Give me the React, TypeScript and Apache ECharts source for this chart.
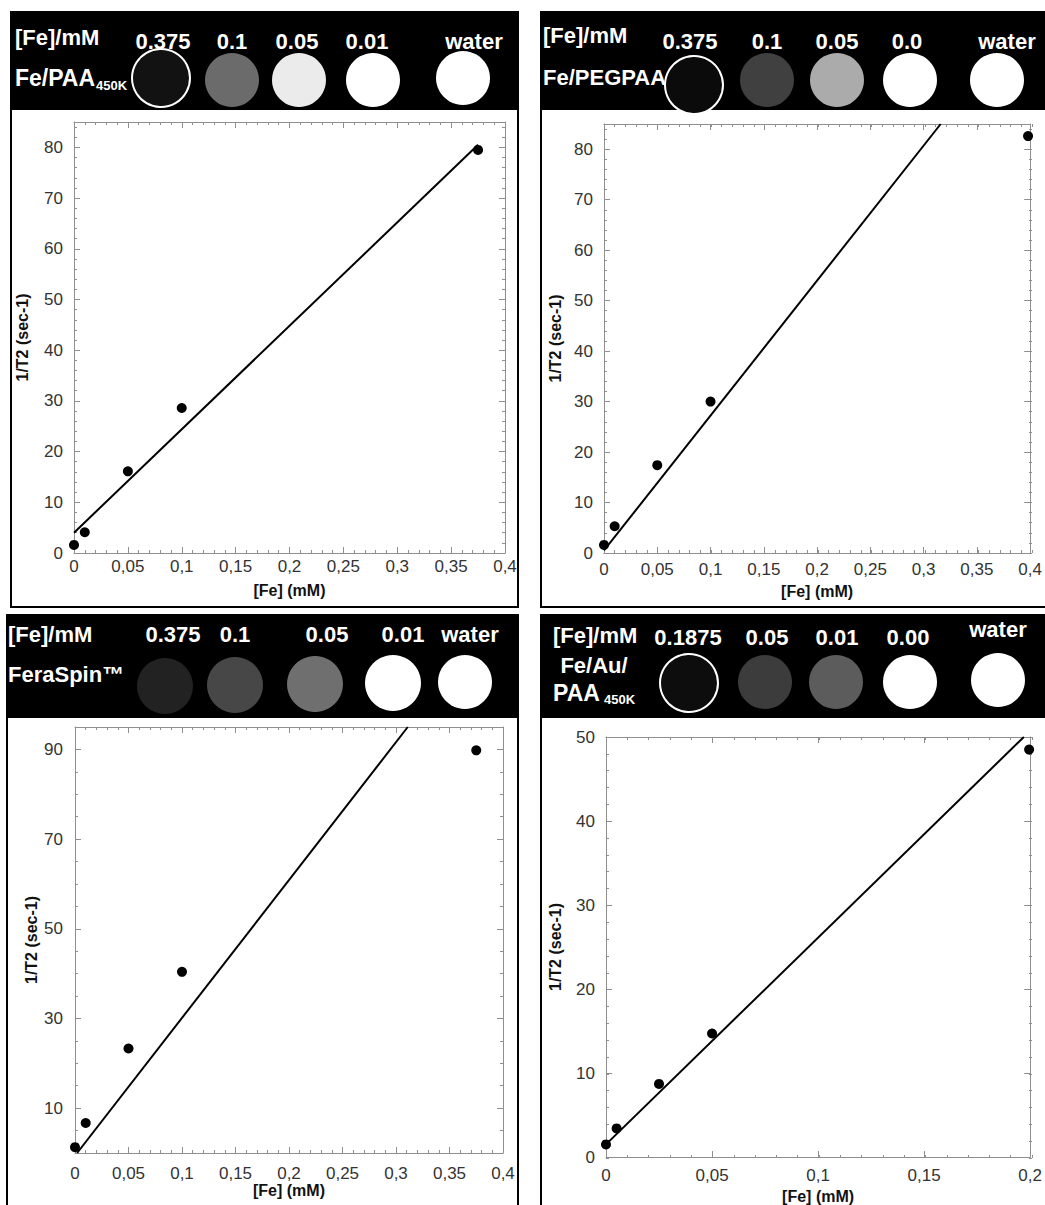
import React, { useEffect, useRef } from "react";
import * as echarts from "echarts";

const FONT = "'Liberation Sans', Arial, Helvetica, sans-serif";

// ---------------- data ----------------
// Panel A — Fe/PAA450K
const aConc = [0, 0.01, 0.05, 0.1, 0.375];
const aRate = [1.6, 4.1, 16.1, 28.6, 79.5];
const aFitConc = [0, 0.375];
const aFitRate = [4.0, 80.5];
// Panel B — Fe/PEGPAA
const bConc = [0, 0.01, 0.05, 0.1, 0.398];
const bRate = [1.6, 5.3, 17.4, 30.0, 82.6];
const bFitConc = [0, 0.316];
const bFitRate = [0.5, 85];
// Panel C — FeraSpin
const cConc = [0, 0.01, 0.05, 0.1, 0.375];
const cRate = [1.3, 6.7, 23.3, 40.4, 89.8];
const cFitConc = [0.002, 0.311];
const cFitRate = [0, 95];
// Panel D — Fe/Au/PAA450K
const dConc = [0, 0.005, 0.025, 0.05, 0.1995];
const dRate = [1.5, 3.4, 8.7, 14.7, 48.5];
const dFitConc = [0, 0.197];
const dFitRate = [1.5, 50];

// tick labels
const xTicksWide = [0, 0.05, 0.1, 0.15, 0.2, 0.25, 0.3, 0.35, 0.4];
const xTicksNarrow = [0, 0.05, 0.1, 0.15, 0.2];
const yTicksA = [0, 10, 20, 30, 40, 50, 60, 70, 80];
const yTicksB = [0, 10, 20, 30, 40, 50, 60, 70, 80];
const yTicksC = [10, 30, 50, 70, 90];
const yTicksD = [0, 10, 20, 30, 40, 50];

// header labels
const hdrA = ["0.375", "0.1", "0.05", "0.01", "water"];
const hdrB = ["0.375", "0.1", "0.05", "0.0", "water"];
const hdrC = ["0.375", "0.1", "0.05", "0.01", "water"];
const hdrD = ["0.1875", "0.05", "0.01", "0.00", "water"];

// ---------------- layout ----------------
const GRAY = "#8f8f8f";
const LABEL = "#333";

function steps(from: number, to: number, step: number): number[] {
  const out: number[] = [];
  for (let v = from; v <= to + 1e-9; v += step) out.push(Math.round(v * 1e6) / 1e6);
  return out;
}

const fmt = (v: number) => String(v).replace(".", ",");

type Panel = {
  conc: number[]; rate: number[]; fitX: number[]; fitY: number[];
  xMax: number; yMax: number; xMajor: number[]; yMajor: number[];
  xMinor: number; yMinor: number;
  box: { left: number; top: number; width: number; height: number };
  yNameGap: number; xNameGap: number; xLabelMargin: number; yLabelMargin: number;
};

const panels: Panel[] = [
  { conc: aConc, rate: aRate, fitX: aFitConc, fitY: aFitRate, xMax: 0.4, yMax: 85, xMajor: xTicksWide, yMajor: yTicksA, xMinor: 0.01, yMinor: 2,
    box: { left: 74, top: 122, width: 431, height: 431 }, yNameGap: 44, xNameGap: 29, xLabelMargin: 5, yLabelMargin: 11 },
  { conc: bConc, rate: bRate, fitX: bFitConc, fitY: bFitRate, xMax: 0.4, yMax: 85, xMajor: xTicksWide, yMajor: yTicksB, xMinor: 0.01, yMinor: 2,
    box: { left: 604, top: 124, width: 428, height: 429 }, yNameGap: 41, xNameGap: 30, xLabelMargin: 8, yLabelMargin: 11 },
  { conc: cConc, rate: cRate, fitX: cFitConc, fitY: cFitRate, xMax: 0.4, yMax: 95, xMajor: xTicksWide, yMajor: yTicksC, xMinor: 0.01, yMinor: 5,
    box: { left: 75, top: 727, width: 428, height: 426 }, yNameGap: 36, xNameGap: 26, xLabelMargin: 12, yLabelMargin: 12 },
  { conc: dConc, rate: dRate, fitX: dFitConc, fitY: dFitRate, xMax: 0.2, yMax: 50, xMajor: xTicksNarrow, yMajor: yTicksD, xMinor: 0.01, yMinor: 2,
    box: { left: 606, top: 737, width: 426, height: 421 }, yNameGap: 43, xNameGap: 31, xLabelMargin: 10, yLabelMargin: 11 },
];

function buildOption() {
  const grid: any[] = [];
  const xAxis: any[] = [];
  const yAxis: any[] = [];
  const series: any[] = [];
  const nameStyle = { fontFamily: FONT, fontSize: 16, fontWeight: "bold", color: "#111" };
  const labelStyle = { fontFamily: FONT, fontSize: 17, color: LABEL };

  panels.forEach((p, i) => {
    grid.push({ ...p.box });
    grid.push({ ...p.box });
    const gMain = i * 2;
    const gMinor = i * 2 + 1;
    const xMinorVals = steps(0, p.xMax, p.xMinor);
    const yMinorVals = steps(0, p.yMax, p.yMinor);
    const base = { type: "value", splitLine: { show: false }, axisPointer: { show: false } };

    // x axes
    xAxis.push({
      ...base, gridIndex: gMain, min: 0, max: p.xMax, position: "bottom",
      axisLine: { show: true, onZero: false, lineStyle: { color: GRAY, width: 1 } },
      axisTick: { show: true, inside: true, length: 6, customValues: p.xMajor, lineStyle: { color: GRAY } },
      axisLabel: { show: true, customValues: p.xMajor, formatter: fmt, margin: p.xLabelMargin, ...labelStyle },
      name: "[Fe] (mM)", nameLocation: "middle", nameGap: p.xNameGap, nameTextStyle: nameStyle,
    });
    xAxis.push({
      ...base, gridIndex: gMain, min: 0, max: p.xMax, position: "top",
      axisLine: { show: true, onZero: false, lineStyle: { color: GRAY, width: 1 } },
      axisTick: { show: true, inside: true, length: 6, customValues: p.xMajor, lineStyle: { color: GRAY } },
      axisLabel: { show: false },
    });
    xAxis.push({
      ...base, gridIndex: gMinor, min: 0, max: p.xMax, position: "bottom",
      axisLine: { show: false, onZero: false },
      axisTick: { show: true, inside: true, length: 3, customValues: xMinorVals, lineStyle: { color: GRAY } },
      axisLabel: { show: false },
    });
    xAxis.push({
      ...base, gridIndex: gMinor, min: 0, max: p.xMax, position: "top",
      axisLine: { show: false, onZero: false },
      axisTick: { show: true, inside: true, length: 3, customValues: xMinorVals, lineStyle: { color: GRAY } },
      axisLabel: { show: false },
    });

    // y axes
    yAxis.push({
      ...base, gridIndex: gMain, min: 0, max: p.yMax, position: "left",
      axisLine: { show: true, onZero: false, lineStyle: { color: GRAY, width: 1 } },
      axisTick: { show: true, inside: true, length: 6, customValues: p.yMajor, lineStyle: { color: GRAY } },
      axisLabel: { show: true, customValues: p.yMajor, margin: p.yLabelMargin, ...labelStyle },
      name: "1/T2 (sec-1)", nameLocation: "middle", nameGap: p.yNameGap, nameTextStyle: nameStyle,
    });
    yAxis.push({
      ...base, gridIndex: gMain, min: 0, max: p.yMax, position: "right",
      axisLine: { show: true, onZero: false, lineStyle: { color: GRAY, width: 1 } },
      axisTick: { show: true, inside: true, length: 6, customValues: p.yMajor, lineStyle: { color: GRAY } },
      axisLabel: { show: false },
    });
    yAxis.push({
      ...base, gridIndex: gMinor, min: 0, max: p.yMax, position: "left",
      axisLine: { show: false, onZero: false },
      axisTick: { show: true, inside: true, length: 3, customValues: yMinorVals, lineStyle: { color: GRAY } },
      axisLabel: { show: false },
    });
    yAxis.push({
      ...base, gridIndex: gMinor, min: 0, max: p.yMax, position: "right",
      axisLine: { show: false, onZero: false },
      axisTick: { show: true, inside: true, length: 3, customValues: yMinorVals, lineStyle: { color: GRAY } },
      axisLabel: { show: false },
    });

    series.push({
      type: "line", xAxisIndex: i * 4, yAxisIndex: i * 4,
      data: p.fitX.map((x, k) => [x, p.fitY[k]]),
      symbol: "none", lineStyle: { color: "#000", width: 2 }, silent: true, z: 2,
    });
    series.push({
      type: "scatter", xAxisIndex: i * 4, yAxisIndex: i * 4,
      data: p.conc.map((x, k) => [x, p.rate[k]]),
      symbol: "circle", symbolSize: 10, itemStyle: { color: "#000", opacity: 1 }, clip: false, z: 3,
    });
  });

  // ---------- header graphics ----------
  const g: any[] = [];
  const txt = (text: string, x: number, y: number, size: number, align: string = "left") => ({
    type: "text", silent: true, z: 20,
    style: { text, x, y, fill: "#fff", fontFamily: FONT, fontWeight: "bold", fontSize: size, align, verticalAlign: "middle" },
  });
  const disc = (cx: number, cy: number, r: number, fill: string, ring = false) => ({
    type: "circle", silent: true, z: 15,
    shape: { cx, cy, r },
    style: ring ? { fill, stroke: "#fff", lineWidth: 2 } : { fill, stroke: null },
  });
  const frame = (x: number, y: number, w: number, h: number) => ({
    type: "rect", silent: true, z: 30, shape: { x, y, width: w, height: h },
    style: { fill: "none", stroke: "#000", lineWidth: 2 },
  });
  const band = (x: number, y: number, w: number, h: number) => ({
    type: "rect", silent: true, z: 10, shape: { x, y, width: w, height: h }, style: { fill: "#000" },
  });

  // Panel A
  g.push(band(11, 12, 507, 98), frame(11, 12, 507, 595));
  g.push(txt("[Fe]/mM", 15, 37.5, 22));
  [163, 232, 297, 367, 474].forEach((x, k) => g.push(txt(hdrA[k], x, 41, 22, "center")));
  g.push(txt("Fe/PAA", 15, 77.5, 23), txt("450K", 96, 85, 13));
  g.push(disc(161, 78, 29, "#121212", true), disc(232, 80, 27, "#6b6b6b"), disc(299, 80, 27, "#ebebeb"),
    disc(373, 80, 27, "#ffffff"), disc(463, 78, 27, "#ffffff"));

  // Panel B
  g.push(band(541, 12, 510, 98), frame(541, 12, 510, 595));
  g.push(txt("[Fe]/mM", 543, 35.5, 22));
  [690, 767, 837, 907, 1007].forEach((x, k) => g.push(txt(hdrB[k], x, 41.5, 22, "center")));
  g.push(txt("Fe/PEGPAA", 543, 77.5, 22));
  g.push(disc(694, 85, 29, "#0b0b0b", true), disc(767, 80, 27, "#404040"), disc(837, 80, 27, "#ababab"),
    disc(910, 80, 27, "#ffffff"), disc(997, 80, 27, "#ffffff"));

  // Panel C
  g.push(band(7, 615, 511, 103), frame(7, 615, 511, 600));
  g.push(txt("[Fe]/mM", 8, 634.5, 22));
  [173, 235, 327, 403, 470].forEach((x, k) => g.push(txt(hdrC[k], x, 634.5, 22, "center")));
  g.push(txt("FeraSpin™", 8, 674.5, 22));
  g.push(disc(165, 686, 28, "#222222"), disc(235, 685, 28, "#474747"), disc(315, 684, 28, "#6f6f6f"),
    disc(393, 683, 28, "#ffffff"), disc(465, 682, 27, "#ffffff"));

  // Panel D
  g.push(band(541, 615, 510, 103), frame(541, 615, 510, 600));
  g.push(txt("[Fe]/mM", 553, 635.5, 22));
  [688, 767, 837, 908].forEach((x, k) => g.push(txt(hdrD[k], x, 637.5, 22, "center")));
  g.push(txt(hdrD[4], 998, 629.5, 22, "center"));
  g.push(txt("Fe/Au/", 594, 665.5, 22, "center"), txt("PAA", 553, 692.5, 23), txt("450K", 604, 699.5, 13));
  g.push(disc(689, 683, 29, "#0d0d0d", true), disc(765, 682, 27, "#3c3c3c"), disc(836, 682, 27, "#5c5c5c"),
    disc(910, 682, 27, "#ffffff"), disc(998, 680, 27, "#ffffff"));

  return {
    animation: false,
    backgroundColor: "#fff",
    textStyle: { fontFamily: FONT },
    grid, xAxis, yAxis, series, graphic: g,
  };
}

export default function App() {
  const ref = useRef<HTMLDivElement>(null);
  useEffect(() => {
    if (!ref.current) return;
    const chart = echarts.init(ref.current, null, { renderer: "svg", width: 1045, height: 1205 });
    chart.setOption(buildOption() as any);
    return () => chart.dispose();
  }, []);
  return (
    <div
      ref={ref}
      style={{ position: "fixed", left: 0, top: 0, width: 1045, height: 1205, background: "#fff" }}
    />
  );
}
